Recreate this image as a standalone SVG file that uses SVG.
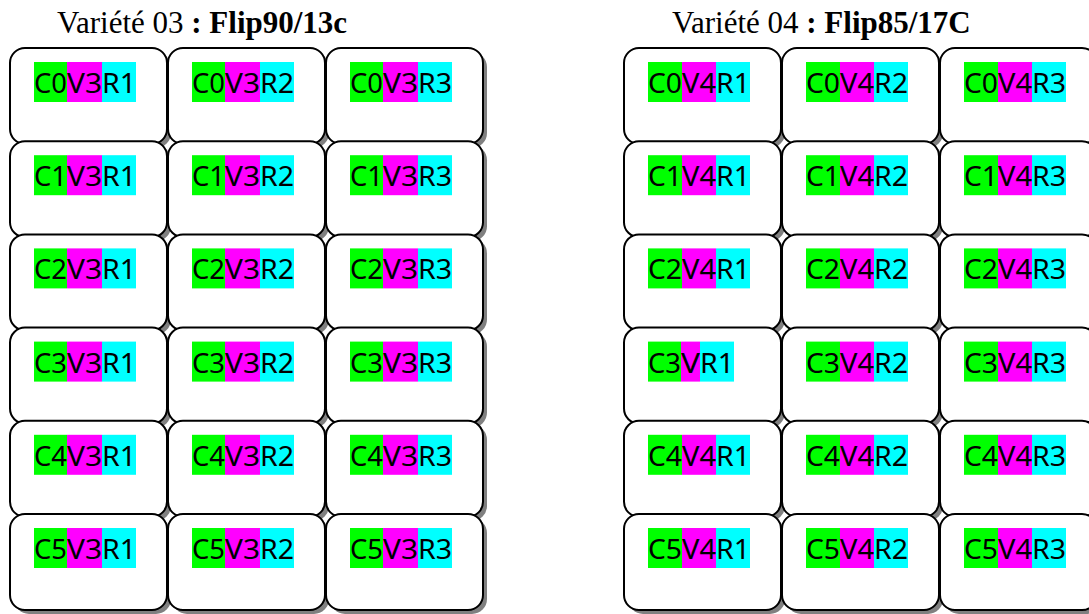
<svg xmlns="http://www.w3.org/2000/svg" xmlns:xlink="http://www.w3.org/1999/xlink" width="1089" height="614" viewBox="0 0 1089 614">
<style>
.bg{fill:#ffffff}
.sh{fill:#808080}
.bx{fill:#ffffff;stroke:#000000;stroke-width:2}
.g{fill:#00ff00}
.m{fill:#ff00ff}
.c{fill:#00ffff}
.t{font-family:"Noto Sans","Open Sans","DejaVu Sans",sans-serif;font-size:28px;fill:#000000}
.title{font-family:"Liberation Serif","Times New Roman",serif;font-size:31px;fill:#000000}
.b{font-weight:bold}
</style>
<defs>
<g id="card">
<rect x="4" y="4" width="157" height="96" rx="15" ry="15" class="sh"/>
<rect x="0" y="0" width="157" height="96" rx="15" ry="15" class="bx"/>
</g>
</defs>
<rect x="0" y="0" width="1089" height="614" class="bg"/>
<text id="title1" x="57" y="33" class="title">Variété 03 <tspan class="b">: Flip90/13c</tspan></text>
<text id="title2" x="672" y="33" class="title">Variété 04 <tspan class="b">: Flip85/17C</tspan></text>
<g id="grid1">
<g id="C0V3R1" transform="translate(10,48)"><use xlink:href="#card"/><rect x="24" y="14" width="33" height="40" class="g"/><rect x="57" y="14" width="35" height="40" class="m"/><rect x="92" y="14" width="34" height="40" class="c"/><text x="24" y="45" textLength="33" lengthAdjust="spacingAndGlyphs" class="t">C0</text><text x="57" y="45" textLength="35" lengthAdjust="spacingAndGlyphs" class="t">V3</text><text x="92" y="45" textLength="34" lengthAdjust="spacingAndGlyphs" class="t">R1</text></g>
<g id="C0V3R2" transform="translate(168,48)"><use xlink:href="#card"/><rect x="24" y="14" width="33" height="40" class="g"/><rect x="57" y="14" width="35" height="40" class="m"/><rect x="92" y="14" width="34" height="40" class="c"/><text x="24" y="45" textLength="33" lengthAdjust="spacingAndGlyphs" class="t">C0</text><text x="57" y="45" textLength="35" lengthAdjust="spacingAndGlyphs" class="t">V3</text><text x="92" y="45" textLength="34" lengthAdjust="spacingAndGlyphs" class="t">R2</text></g>
<g id="C0V3R3" transform="translate(326,48)"><use xlink:href="#card"/><rect x="24" y="14" width="33" height="40" class="g"/><rect x="57" y="14" width="35" height="40" class="m"/><rect x="92" y="14" width="34" height="40" class="c"/><text x="24" y="45" textLength="33" lengthAdjust="spacingAndGlyphs" class="t">C0</text><text x="57" y="45" textLength="35" lengthAdjust="spacingAndGlyphs" class="t">V3</text><text x="92" y="45" textLength="34" lengthAdjust="spacingAndGlyphs" class="t">R3</text></g>
<g id="C1V3R1" transform="translate(10,141.2)"><use xlink:href="#card"/><rect x="24" y="14" width="33" height="40" class="g"/><rect x="57" y="14" width="35" height="40" class="m"/><rect x="92" y="14" width="34" height="40" class="c"/><text x="24" y="45" textLength="33" lengthAdjust="spacingAndGlyphs" class="t">C1</text><text x="57" y="45" textLength="35" lengthAdjust="spacingAndGlyphs" class="t">V3</text><text x="92" y="45" textLength="34" lengthAdjust="spacingAndGlyphs" class="t">R1</text></g>
<g id="C1V3R2" transform="translate(168,141.2)"><use xlink:href="#card"/><rect x="24" y="14" width="33" height="40" class="g"/><rect x="57" y="14" width="35" height="40" class="m"/><rect x="92" y="14" width="34" height="40" class="c"/><text x="24" y="45" textLength="33" lengthAdjust="spacingAndGlyphs" class="t">C1</text><text x="57" y="45" textLength="35" lengthAdjust="spacingAndGlyphs" class="t">V3</text><text x="92" y="45" textLength="34" lengthAdjust="spacingAndGlyphs" class="t">R2</text></g>
<g id="C1V3R3" transform="translate(326,141.2)"><use xlink:href="#card"/><rect x="24" y="14" width="33" height="40" class="g"/><rect x="57" y="14" width="35" height="40" class="m"/><rect x="92" y="14" width="34" height="40" class="c"/><text x="24" y="45" textLength="33" lengthAdjust="spacingAndGlyphs" class="t">C1</text><text x="57" y="45" textLength="35" lengthAdjust="spacingAndGlyphs" class="t">V3</text><text x="92" y="45" textLength="34" lengthAdjust="spacingAndGlyphs" class="t">R3</text></g>
<g id="C2V3R1" transform="translate(10,234.4)"><use xlink:href="#card"/><rect x="24" y="14" width="33" height="40" class="g"/><rect x="57" y="14" width="35" height="40" class="m"/><rect x="92" y="14" width="34" height="40" class="c"/><text x="24" y="45" textLength="33" lengthAdjust="spacingAndGlyphs" class="t">C2</text><text x="57" y="45" textLength="35" lengthAdjust="spacingAndGlyphs" class="t">V3</text><text x="92" y="45" textLength="34" lengthAdjust="spacingAndGlyphs" class="t">R1</text></g>
<g id="C2V3R2" transform="translate(168,234.4)"><use xlink:href="#card"/><rect x="24" y="14" width="33" height="40" class="g"/><rect x="57" y="14" width="35" height="40" class="m"/><rect x="92" y="14" width="34" height="40" class="c"/><text x="24" y="45" textLength="33" lengthAdjust="spacingAndGlyphs" class="t">C2</text><text x="57" y="45" textLength="35" lengthAdjust="spacingAndGlyphs" class="t">V3</text><text x="92" y="45" textLength="34" lengthAdjust="spacingAndGlyphs" class="t">R2</text></g>
<g id="C2V3R3" transform="translate(326,234.4)"><use xlink:href="#card"/><rect x="24" y="14" width="33" height="40" class="g"/><rect x="57" y="14" width="35" height="40" class="m"/><rect x="92" y="14" width="34" height="40" class="c"/><text x="24" y="45" textLength="33" lengthAdjust="spacingAndGlyphs" class="t">C2</text><text x="57" y="45" textLength="35" lengthAdjust="spacingAndGlyphs" class="t">V3</text><text x="92" y="45" textLength="34" lengthAdjust="spacingAndGlyphs" class="t">R3</text></g>
<g id="C3V3R1" transform="translate(10,327.6)"><use xlink:href="#card"/><rect x="24" y="14" width="33" height="40" class="g"/><rect x="57" y="14" width="35" height="40" class="m"/><rect x="92" y="14" width="34" height="40" class="c"/><text x="24" y="45" textLength="33" lengthAdjust="spacingAndGlyphs" class="t">C3</text><text x="57" y="45" textLength="35" lengthAdjust="spacingAndGlyphs" class="t">V3</text><text x="92" y="45" textLength="34" lengthAdjust="spacingAndGlyphs" class="t">R1</text></g>
<g id="C3V3R2" transform="translate(168,327.6)"><use xlink:href="#card"/><rect x="24" y="14" width="33" height="40" class="g"/><rect x="57" y="14" width="35" height="40" class="m"/><rect x="92" y="14" width="34" height="40" class="c"/><text x="24" y="45" textLength="33" lengthAdjust="spacingAndGlyphs" class="t">C3</text><text x="57" y="45" textLength="35" lengthAdjust="spacingAndGlyphs" class="t">V3</text><text x="92" y="45" textLength="34" lengthAdjust="spacingAndGlyphs" class="t">R2</text></g>
<g id="C3V3R3" transform="translate(326,327.6)"><use xlink:href="#card"/><rect x="24" y="14" width="33" height="40" class="g"/><rect x="57" y="14" width="35" height="40" class="m"/><rect x="92" y="14" width="34" height="40" class="c"/><text x="24" y="45" textLength="33" lengthAdjust="spacingAndGlyphs" class="t">C3</text><text x="57" y="45" textLength="35" lengthAdjust="spacingAndGlyphs" class="t">V3</text><text x="92" y="45" textLength="34" lengthAdjust="spacingAndGlyphs" class="t">R3</text></g>
<g id="C4V3R1" transform="translate(10,420.8)"><use xlink:href="#card"/><rect x="24" y="14" width="33" height="40" class="g"/><rect x="57" y="14" width="35" height="40" class="m"/><rect x="92" y="14" width="34" height="40" class="c"/><text x="24" y="45" textLength="33" lengthAdjust="spacingAndGlyphs" class="t">C4</text><text x="57" y="45" textLength="35" lengthAdjust="spacingAndGlyphs" class="t">V3</text><text x="92" y="45" textLength="34" lengthAdjust="spacingAndGlyphs" class="t">R1</text></g>
<g id="C4V3R2" transform="translate(168,420.8)"><use xlink:href="#card"/><rect x="24" y="14" width="33" height="40" class="g"/><rect x="57" y="14" width="35" height="40" class="m"/><rect x="92" y="14" width="34" height="40" class="c"/><text x="24" y="45" textLength="33" lengthAdjust="spacingAndGlyphs" class="t">C4</text><text x="57" y="45" textLength="35" lengthAdjust="spacingAndGlyphs" class="t">V3</text><text x="92" y="45" textLength="34" lengthAdjust="spacingAndGlyphs" class="t">R2</text></g>
<g id="C4V3R3" transform="translate(326,420.8)"><use xlink:href="#card"/><rect x="24" y="14" width="33" height="40" class="g"/><rect x="57" y="14" width="35" height="40" class="m"/><rect x="92" y="14" width="34" height="40" class="c"/><text x="24" y="45" textLength="33" lengthAdjust="spacingAndGlyphs" class="t">C4</text><text x="57" y="45" textLength="35" lengthAdjust="spacingAndGlyphs" class="t">V3</text><text x="92" y="45" textLength="34" lengthAdjust="spacingAndGlyphs" class="t">R3</text></g>
<g id="C5V3R1" transform="translate(10,514)"><use xlink:href="#card"/><rect x="24" y="14" width="33" height="40" class="g"/><rect x="57" y="14" width="35" height="40" class="m"/><rect x="92" y="14" width="34" height="40" class="c"/><text x="24" y="45" textLength="33" lengthAdjust="spacingAndGlyphs" class="t">C5</text><text x="57" y="45" textLength="35" lengthAdjust="spacingAndGlyphs" class="t">V3</text><text x="92" y="45" textLength="34" lengthAdjust="spacingAndGlyphs" class="t">R1</text></g>
<g id="C5V3R2" transform="translate(168,514)"><use xlink:href="#card"/><rect x="24" y="14" width="33" height="40" class="g"/><rect x="57" y="14" width="35" height="40" class="m"/><rect x="92" y="14" width="34" height="40" class="c"/><text x="24" y="45" textLength="33" lengthAdjust="spacingAndGlyphs" class="t">C5</text><text x="57" y="45" textLength="35" lengthAdjust="spacingAndGlyphs" class="t">V3</text><text x="92" y="45" textLength="34" lengthAdjust="spacingAndGlyphs" class="t">R2</text></g>
<g id="C5V3R3" transform="translate(326,514)"><use xlink:href="#card"/><rect x="24" y="14" width="33" height="40" class="g"/><rect x="57" y="14" width="35" height="40" class="m"/><rect x="92" y="14" width="34" height="40" class="c"/><text x="24" y="45" textLength="33" lengthAdjust="spacingAndGlyphs" class="t">C5</text><text x="57" y="45" textLength="35" lengthAdjust="spacingAndGlyphs" class="t">V3</text><text x="92" y="45" textLength="34" lengthAdjust="spacingAndGlyphs" class="t">R3</text></g>
</g>
<g id="grid2">
<g id="C0V4R1" transform="translate(624,48)"><use xlink:href="#card"/><rect x="24" y="14" width="34" height="40" class="g"/><rect x="58" y="14" width="34" height="40" class="m"/><rect x="92" y="14" width="34" height="40" class="c"/><text x="24" y="45" textLength="34" lengthAdjust="spacingAndGlyphs" class="t">C0</text><text x="58" y="45" textLength="34" lengthAdjust="spacingAndGlyphs" class="t">V4</text><text x="92" y="45" textLength="34" lengthAdjust="spacingAndGlyphs" class="t">R1</text></g>
<g id="C0V4R2" transform="translate(782,48)"><use xlink:href="#card"/><rect x="24" y="14" width="34" height="40" class="g"/><rect x="58" y="14" width="34" height="40" class="m"/><rect x="92" y="14" width="34" height="40" class="c"/><text x="24" y="45" textLength="34" lengthAdjust="spacingAndGlyphs" class="t">C0</text><text x="58" y="45" textLength="34" lengthAdjust="spacingAndGlyphs" class="t">V4</text><text x="92" y="45" textLength="34" lengthAdjust="spacingAndGlyphs" class="t">R2</text></g>
<g id="C0V4R3" transform="translate(940,48)"><use xlink:href="#card"/><rect x="24" y="14" width="34" height="40" class="g"/><rect x="58" y="14" width="34" height="40" class="m"/><rect x="92" y="14" width="34" height="40" class="c"/><text x="24" y="45" textLength="34" lengthAdjust="spacingAndGlyphs" class="t">C0</text><text x="58" y="45" textLength="34" lengthAdjust="spacingAndGlyphs" class="t">V4</text><text x="92" y="45" textLength="34" lengthAdjust="spacingAndGlyphs" class="t">R3</text></g>
<g id="C1V4R1" transform="translate(624,141.2)"><use xlink:href="#card"/><rect x="24" y="14" width="34" height="40" class="g"/><rect x="58" y="14" width="34" height="40" class="m"/><rect x="92" y="14" width="34" height="40" class="c"/><text x="24" y="45" textLength="34" lengthAdjust="spacingAndGlyphs" class="t">C1</text><text x="58" y="45" textLength="34" lengthAdjust="spacingAndGlyphs" class="t">V4</text><text x="92" y="45" textLength="34" lengthAdjust="spacingAndGlyphs" class="t">R1</text></g>
<g id="C1V4R2" transform="translate(782,141.2)"><use xlink:href="#card"/><rect x="24" y="14" width="34" height="40" class="g"/><rect x="58" y="14" width="34" height="40" class="m"/><rect x="92" y="14" width="34" height="40" class="c"/><text x="24" y="45" textLength="34" lengthAdjust="spacingAndGlyphs" class="t">C1</text><text x="58" y="45" textLength="34" lengthAdjust="spacingAndGlyphs" class="t">V4</text><text x="92" y="45" textLength="34" lengthAdjust="spacingAndGlyphs" class="t">R2</text></g>
<g id="C1V4R3" transform="translate(940,141.2)"><use xlink:href="#card"/><rect x="24" y="14" width="34" height="40" class="g"/><rect x="58" y="14" width="34" height="40" class="m"/><rect x="92" y="14" width="34" height="40" class="c"/><text x="24" y="45" textLength="34" lengthAdjust="spacingAndGlyphs" class="t">C1</text><text x="58" y="45" textLength="34" lengthAdjust="spacingAndGlyphs" class="t">V4</text><text x="92" y="45" textLength="34" lengthAdjust="spacingAndGlyphs" class="t">R3</text></g>
<g id="C2V4R1" transform="translate(624,234.4)"><use xlink:href="#card"/><rect x="24" y="14" width="34" height="40" class="g"/><rect x="58" y="14" width="34" height="40" class="m"/><rect x="92" y="14" width="34" height="40" class="c"/><text x="24" y="45" textLength="34" lengthAdjust="spacingAndGlyphs" class="t">C2</text><text x="58" y="45" textLength="34" lengthAdjust="spacingAndGlyphs" class="t">V4</text><text x="92" y="45" textLength="34" lengthAdjust="spacingAndGlyphs" class="t">R1</text></g>
<g id="C2V4R2" transform="translate(782,234.4)"><use xlink:href="#card"/><rect x="24" y="14" width="34" height="40" class="g"/><rect x="58" y="14" width="34" height="40" class="m"/><rect x="92" y="14" width="34" height="40" class="c"/><text x="24" y="45" textLength="34" lengthAdjust="spacingAndGlyphs" class="t">C2</text><text x="58" y="45" textLength="34" lengthAdjust="spacingAndGlyphs" class="t">V4</text><text x="92" y="45" textLength="34" lengthAdjust="spacingAndGlyphs" class="t">R2</text></g>
<g id="C2V4R3" transform="translate(940,234.4)"><use xlink:href="#card"/><rect x="24" y="14" width="34" height="40" class="g"/><rect x="58" y="14" width="34" height="40" class="m"/><rect x="92" y="14" width="34" height="40" class="c"/><text x="24" y="45" textLength="34" lengthAdjust="spacingAndGlyphs" class="t">C2</text><text x="58" y="45" textLength="34" lengthAdjust="spacingAndGlyphs" class="t">V4</text><text x="92" y="45" textLength="34" lengthAdjust="spacingAndGlyphs" class="t">R3</text></g>
<g id="C3VR1" transform="translate(624,327.6)"><use xlink:href="#card"/><rect x="24" y="14" width="33" height="40" class="g"/><rect x="57" y="14" width="19" height="40" class="m"/><rect x="76" y="14" width="34" height="40" class="c"/><text x="24" y="45" textLength="33" lengthAdjust="spacingAndGlyphs" class="t">C3</text><text x="57" y="45" textLength="19" lengthAdjust="spacingAndGlyphs" class="t">V</text><text x="76" y="45" textLength="34" lengthAdjust="spacingAndGlyphs" class="t">R1</text></g>
<g id="C3V4R2" transform="translate(782,327.6)"><use xlink:href="#card"/><rect x="24" y="14" width="34" height="40" class="g"/><rect x="58" y="14" width="34" height="40" class="m"/><rect x="92" y="14" width="34" height="40" class="c"/><text x="24" y="45" textLength="34" lengthAdjust="spacingAndGlyphs" class="t">C3</text><text x="58" y="45" textLength="34" lengthAdjust="spacingAndGlyphs" class="t">V4</text><text x="92" y="45" textLength="34" lengthAdjust="spacingAndGlyphs" class="t">R2</text></g>
<g id="C3V4R3" transform="translate(940,327.6)"><use xlink:href="#card"/><rect x="24" y="14" width="34" height="40" class="g"/><rect x="58" y="14" width="34" height="40" class="m"/><rect x="92" y="14" width="34" height="40" class="c"/><text x="24" y="45" textLength="34" lengthAdjust="spacingAndGlyphs" class="t">C3</text><text x="58" y="45" textLength="34" lengthAdjust="spacingAndGlyphs" class="t">V4</text><text x="92" y="45" textLength="34" lengthAdjust="spacingAndGlyphs" class="t">R3</text></g>
<g id="C4V4R1" transform="translate(624,420.8)"><use xlink:href="#card"/><rect x="24" y="14" width="34" height="40" class="g"/><rect x="58" y="14" width="34" height="40" class="m"/><rect x="92" y="14" width="34" height="40" class="c"/><text x="24" y="45" textLength="34" lengthAdjust="spacingAndGlyphs" class="t">C4</text><text x="58" y="45" textLength="34" lengthAdjust="spacingAndGlyphs" class="t">V4</text><text x="92" y="45" textLength="34" lengthAdjust="spacingAndGlyphs" class="t">R1</text></g>
<g id="C4V4R2" transform="translate(782,420.8)"><use xlink:href="#card"/><rect x="24" y="14" width="34" height="40" class="g"/><rect x="58" y="14" width="34" height="40" class="m"/><rect x="92" y="14" width="34" height="40" class="c"/><text x="24" y="45" textLength="34" lengthAdjust="spacingAndGlyphs" class="t">C4</text><text x="58" y="45" textLength="34" lengthAdjust="spacingAndGlyphs" class="t">V4</text><text x="92" y="45" textLength="34" lengthAdjust="spacingAndGlyphs" class="t">R2</text></g>
<g id="C4V4R3" transform="translate(940,420.8)"><use xlink:href="#card"/><rect x="24" y="14" width="34" height="40" class="g"/><rect x="58" y="14" width="34" height="40" class="m"/><rect x="92" y="14" width="34" height="40" class="c"/><text x="24" y="45" textLength="34" lengthAdjust="spacingAndGlyphs" class="t">C4</text><text x="58" y="45" textLength="34" lengthAdjust="spacingAndGlyphs" class="t">V4</text><text x="92" y="45" textLength="34" lengthAdjust="spacingAndGlyphs" class="t">R3</text></g>
<g id="C5V4R1" transform="translate(624,514)"><use xlink:href="#card"/><rect x="24" y="14" width="34" height="40" class="g"/><rect x="58" y="14" width="34" height="40" class="m"/><rect x="92" y="14" width="34" height="40" class="c"/><text x="24" y="45" textLength="34" lengthAdjust="spacingAndGlyphs" class="t">C5</text><text x="58" y="45" textLength="34" lengthAdjust="spacingAndGlyphs" class="t">V4</text><text x="92" y="45" textLength="34" lengthAdjust="spacingAndGlyphs" class="t">R1</text></g>
<g id="C5V4R2" transform="translate(782,514)"><use xlink:href="#card"/><rect x="24" y="14" width="34" height="40" class="g"/><rect x="58" y="14" width="34" height="40" class="m"/><rect x="92" y="14" width="34" height="40" class="c"/><text x="24" y="45" textLength="34" lengthAdjust="spacingAndGlyphs" class="t">C5</text><text x="58" y="45" textLength="34" lengthAdjust="spacingAndGlyphs" class="t">V4</text><text x="92" y="45" textLength="34" lengthAdjust="spacingAndGlyphs" class="t">R2</text></g>
<g id="C5V4R3" transform="translate(940,514)"><use xlink:href="#card"/><rect x="24" y="14" width="34" height="40" class="g"/><rect x="58" y="14" width="34" height="40" class="m"/><rect x="92" y="14" width="34" height="40" class="c"/><text x="24" y="45" textLength="34" lengthAdjust="spacingAndGlyphs" class="t">C5</text><text x="58" y="45" textLength="34" lengthAdjust="spacingAndGlyphs" class="t">V4</text><text x="92" y="45" textLength="34" lengthAdjust="spacingAndGlyphs" class="t">R3</text></g>
</g>
</svg>
